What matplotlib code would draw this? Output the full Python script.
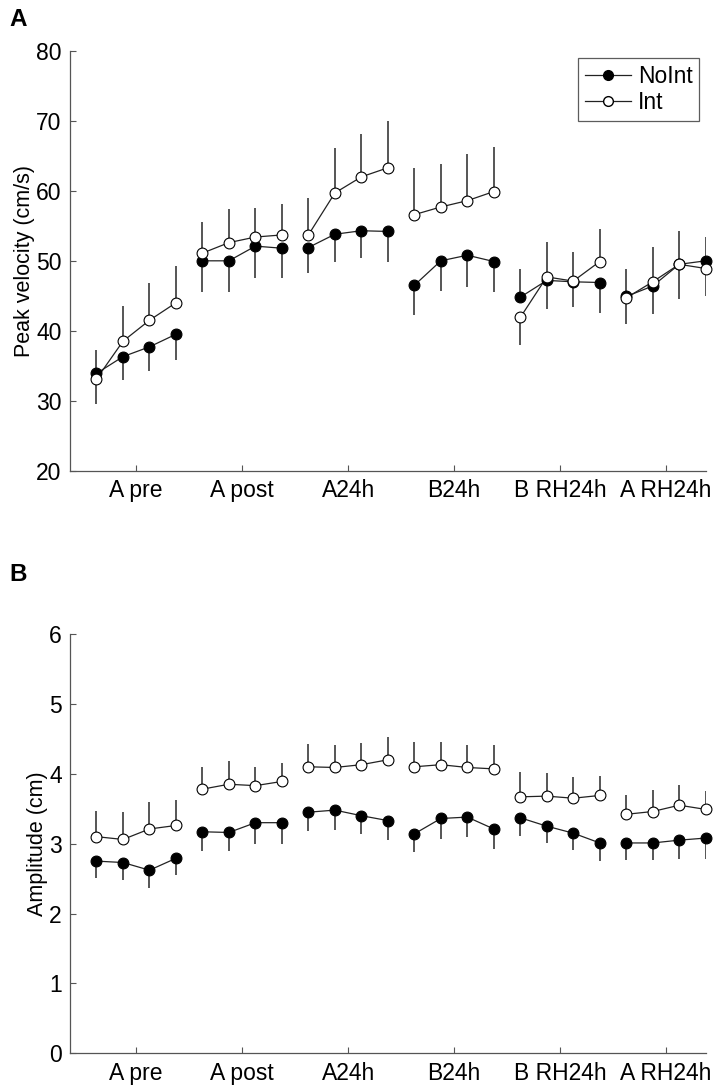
import numpy as np
import matplotlib
matplotlib.use('Agg')
import matplotlib.pyplot as plt

plt.rcParams['font.family'] = ['Liberation Sans', 'DejaVu Sans']

groups = ['A pre', 'A post', 'A24h', 'B24h', 'B RH24h', 'A RH24h']

# peak velocity (cm/s), 4 blocks per session
vel_noint = [33.9, 36.3, 37.7, 39.5, 50.0, 50.0, 52.1, 51.8,
             51.9, 53.8, 54.3, 54.2, 46.5, 50.0, 50.8, 49.9,
             44.8, 47.2, 47.0, 46.9, 44.9, 46.4, 49.5, 50.0]
vel_noint_err = [3.3, 3.4, 3.5, 3.7, 4.5, 4.4, 4.6, 4.3,
                 3.7, 4.0, 3.9, 4.4, 4.3, 4.3, 4.6, 4.4,
                 4.1, 4.1, 3.6, 4.3, 4.0, 4.0, 4.8, 3.4]
vel_int = [33.1, 38.5, 41.5, 44.0, 51.1, 52.6, 53.4, 53.7,
           53.7, 59.7, 62.0, 63.3, 56.6, 57.7, 58.6, 59.9,
           41.9, 47.7, 47.1, 49.9, 44.7, 47.0, 49.5, 48.9]
vel_int_err = [3.5, 5.0, 5.4, 5.3, 4.5, 4.8, 4.1, 4.4,
               5.3, 6.4, 6.1, 6.7, 6.6, 6.2, 6.7, 6.4,
               4.0, 5.0, 4.1, 4.7, 3.7, 5.0, 5.0, 3.9]

# amplitude (cm)
amp_noint = [2.75, 2.73, 2.62, 2.79, 3.17, 3.16, 3.30, 3.30,
             3.45, 3.48, 3.40, 3.33, 3.14, 3.36, 3.38, 3.21,
             3.37, 3.25, 3.15, 3.01, 3.01, 3.01, 3.05, 3.08]
amp_noint_err = [0.24, 0.25, 0.26, 0.24, 0.27, 0.27, 0.30, 0.30,
                 0.27, 0.28, 0.26, 0.28, 0.26, 0.29, 0.28, 0.28,
                 0.26, 0.24, 0.24, 0.26, 0.25, 0.25, 0.27, 0.30]
amp_int = [3.10, 3.06, 3.21, 3.26, 3.78, 3.85, 3.83, 3.89,
           4.10, 4.09, 4.13, 4.20, 4.10, 4.13, 4.09, 4.07,
           3.67, 3.68, 3.65, 3.69, 3.42, 3.46, 3.55, 3.49]
amp_int_err = [0.37, 0.39, 0.39, 0.37, 0.31, 0.33, 0.26, 0.27,
               0.33, 0.32, 0.31, 0.32, 0.35, 0.32, 0.32, 0.34,
               0.35, 0.33, 0.30, 0.28, 0.28, 0.31, 0.29, 0.26]

x = np.arange(1, 25)
gray = '#555555'


def panel(ax, noint, noint_err, yint, int_err, ylim, yticks, ylabel):
    noint = np.array(noint)
    yint = np.array(yint)
    # higher series gets the upward bar, lower one the downward bar
    up_noint = noint >= yint
    ax.vlines(x, noint, np.where(up_noint, noint + noint_err, noint - noint_err),
              color=gray, lw=1.4, zorder=1)
    ax.vlines(x, yint, np.where(up_noint, yint - int_err, yint + int_err),
              color=gray, lw=1.4, zorder=1)
    for g in range(6):
        s = slice(4 * g, 4 * g + 4)
        ax.plot(x[s], noint[s], '-', color='#222222', lw=0.9, zorder=2)
        ax.plot(x[s], yint[s], '-', color='#222222', lw=0.9, zorder=2)
        ax.plot(x[s], noint[s], 'o', mfc='black', mec='black', ms=7.8,
                mew=0.8, zorder=3, clip_on=False)
        ax.plot(x[s], yint[s], 'o', mfc='white', mec='black', ms=7.8,
                mew=0.8, zorder=4, clip_on=False)
    ax.set_xlim(0, 24)
    ax.set_ylim(*ylim)
    ax.set_yticks(yticks)
    ax.set_xticks(np.arange(2.5, 24, 4))
    ax.set_xticklabels(groups)
    ax.set_ylabel(ylabel, fontsize=15.5, labelpad=1)
    ax.spines['top'].set_visible(False)
    ax.spines['right'].set_visible(False)
    for sp in ('left', 'bottom'):
        ax.spines[sp].set_color(gray)
        ax.spines[sp].set_linewidth(0.9)
    ax.tick_params(direction='in', length=4, width=0.8, color=gray,
                   labelsize=16.5, pad=6)


fig = plt.figure(figsize=(7.23, 10.89), dpi=100)
ax1 = fig.add_axes([0.0968, 0.5678, 0.8793, 0.3854])
ax2 = fig.add_axes([0.0968, 0.0328, 0.8793, 0.3850])

panel(ax1, vel_noint, vel_noint_err, vel_int, vel_int_err,
      (20, 80), range(20, 81, 10), 'Peak velocity (cm/s)')
panel(ax2, amp_noint, amp_noint_err, amp_int, amp_int_err,
      (0, 6), range(0, 7), 'Amplitude (cm)')

h1, = ax1.plot([], [], '-o', color='#222222', lw=0.9, mfc='black', mec='black', ms=7)
h2, = ax1.plot([], [], '-o', color='#222222', lw=0.9, mfc='white', mec='black', ms=7)
leg = ax1.legend([h1, h2], ['NoInt', 'Int'], loc='upper right',
                 bbox_to_anchor=(0.99, 0.983), fontsize=16.5, fancybox=False,
                 handlelength=2.0, handletextpad=0.3, borderpad=0.3,
                 labelspacing=0.15, borderaxespad=0)
leg.get_frame().set_edgecolor('#333333')
leg.get_frame().set_linewidth(0.9)

fig.text(0.013, 0.982, 'A', fontsize=17.5, fontweight='bold', va='center')
fig.text(0.013, 0.472, 'B', fontsize=17.5, fontweight='bold', va='center')

fig.savefig('out.png', dpi=100)
